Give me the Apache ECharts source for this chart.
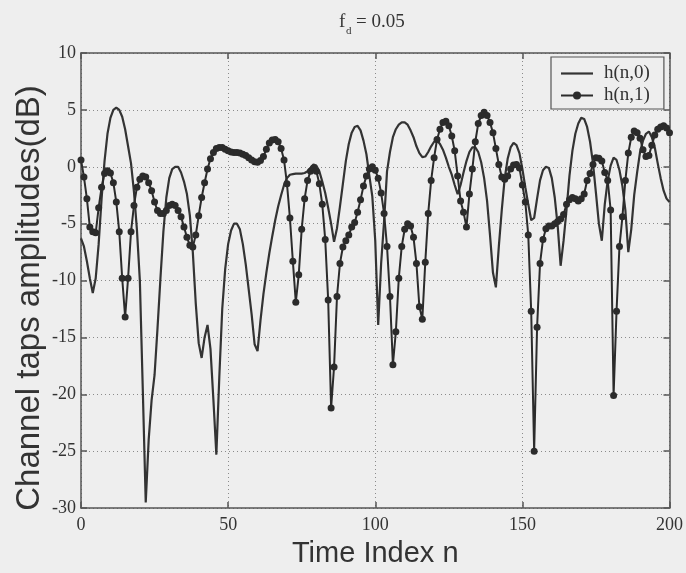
<!DOCTYPE html>
<html>
<head>
<meta charset="utf-8">
<script src="https://cdn.jsdelivr.net/npm/echarts@6/dist/echarts.min.js"></script>
<style>
html,body{margin:0;padding:0;background:#eeeeee;}
#chart{width:686px;height:573px;}
</style>
</head>
<body>
<div id="chart"></div>
<script>
// Time index n = 0..200 (sample positions)
const timeIndex = Array.from({length: 201}, (_, i) => i);

// h(n,0) amplitudes (dB)
const h0 = [
 -6.3,-7.0,-8.3,-9.8,-11.1,-9.8,-6.8,-2.8,0.5,2.9,
 4.3,5.0,5.2,5.0,4.4,3.3,1.8,0.3,-2.2,-5.5,
 -10.0,-19.6,-29.5,-24.0,-20.5,-18.3,-14.2,-9.8,-5.7,-2.7,
 -1.0,-0.2,0.0,0.0,-0.5,-1.3,-2.4,-4.3,-7.5,-12.0,
 -15.5,-16.8,-15.0,-13.9,-16.0,-20.5,-25.3,-18.5,-12.5,-9.0,
 -6.8,-5.6,-5.0,-5.0,-5.5,-6.8,-8.6,-10.8,-13.0,-15.6,
 -16.2,-13.5,-11.2,-9.3,-7.6,-6.1,-4.7,-3.5,-2.5,-1.6,
 -1.0,-0.7,-0.65,-0.6,-0.6,-0.6,-0.55,-0.4,-0.1,0.2,
 0.1,-0.4,-1.3,-2.3,-3.6,-5.0,-6.6,-5.4,-3.5,-1.5,
 0.5,2.0,3.0,3.5,3.6,3.2,2.3,1.1,-0.8,-2.6,
 -6.5,-13.9,-8.5,-4.8,-0.4,1.3,2.6,3.3,3.7,3.9,
 3.9,3.7,3.2,2.6,1.8,1.2,0.85,0.9,1.3,1.8,
 2.2,2.3,2.0,1.5,0.8,0.0,-0.7,-1.6,-2.4,-1.6,
 -0.5,0.5,1.3,1.7,1.7,1.3,0.4,-1.0,-3.0,-6.0,
 -9.3,-10.6,-7.0,-3.8,-1.0,0.7,1.7,2.1,1.9,1.2,
 -0.2,-1.8,-3.3,-4.7,-4.5,-2.8,-1.2,-0.3,0.0,-0.1,
 -1.0,-2.7,-5.2,-8.7,-6.5,-3.8,-0.8,1.4,2.9,3.8,
 4.3,4.2,3.5,2.2,0.3,-2.3,-5.0,-6.5,-3.3,-1.2,
 0.1,0.8,0.6,-0.3,-1.7,-3.8,-7.5,-5.5,-2.5,-0.5,
 1.3,2.3,2.9,3.1,2.6,1.7,0.3,-1.0,-2.1,-2.8,
 -3.1
];

// h(n,1) amplitudes (dB)
const h1 = [
 0.6,-0.9,-2.8,-5.3,-5.7,-5.8,-3.6,-1.8,-0.6,-0.35,
 -0.55,-1.4,-3.1,-5.7,-9.8,-13.2,-9.8,-5.7,-3.4,-1.8,
 -1.1,-0.8,-0.9,-1.4,-2.1,-3.1,-3.85,-4.1,-4.1,-3.85,
 -3.4,-3.3,-3.4,-3.85,-4.4,-5.3,-6.2,-6.9,-7.05,-6.0,
 -4.3,-2.7,-1.4,-0.2,0.7,1.25,1.6,1.7,1.7,1.55,
 1.4,1.3,1.25,1.25,1.2,1.1,1.0,0.8,0.6,0.45,
 0.4,0.55,0.9,1.55,2.1,2.35,2.4,2.2,1.6,0.6,
 -1.5,-4.5,-8.3,-11.9,-9.5,-5.5,-2.8,-1.2,-0.4,-0.1,
 -0.4,-1.5,-3.3,-6.4,-11.7,-21.2,-17.6,-11.4,-8.5,-7.05,
 -6.5,-6.0,-5.3,-4.9,-4.0,-2.9,-1.7,-0.8,-0.2,0.0,
 -0.3,-1.0,-2.3,-4.1,-7.0,-11.4,-17.4,-14.5,-9.8,-7.0,
 -5.5,-5.0,-5.2,-6.2,-8.5,-12.3,-13.4,-8.4,-4.1,-1.2,
 0.8,2.4,3.3,3.9,4.0,3.6,2.7,1.4,-0.8,-3.0,
 -4.0,-5.3,-2.4,-0.2,2.2,3.8,4.5,4.8,4.5,3.9,
 3.0,1.6,0.2,-0.9,-1.1,-0.8,-0.2,0.15,0.2,-0.1,
 -1.6,-3.1,-6.0,-12.7,-25.0,-14.1,-8.5,-6.4,-5.45,-5.2,
 -5.2,-5.0,-4.8,-4.6,-4.2,-3.3,-2.9,-2.7,-2.8,-3.0,
 -2.8,-2.4,-1.2,-0.6,0.2,0.8,0.75,0.5,-0.5,-1.2,
 -3.8,-20.1,-12.7,-7.0,-4.4,-1.2,1.2,2.6,3.15,3.0,
 2.5,1.5,0.9,1.0,1.9,2.8,3.3,3.5,3.6,3.4,
 3.0
];

const seriesNames = ['h(n,0)', 'h(n,1)'];
const xTicks = [0, 50, 100, 150, 200];
const yTicks = [-30, -25, -20, -15, -10, -5, 0, 5, 10];
const titleParts = ['f', 'd', '= 0.05'];
const xName = 'Time Index n';
const yName = 'Channel taps amplitudes(dB)';

const serif = 'Liberation Serif';
const sans = 'Liberation Sans';
const frame = '#555555';
const ink = '#333333';

const chart = echarts.init(document.getElementById('chart'), null, {renderer: 'canvas'});

const dotted = {show: true, lineStyle: {color: '#8a8a8a', type: [1, 3], width: 1}};

const option = {
  backgroundColor: '#eeeeee',
  animation: false,
  grid: {left: 81, right: 16, top: 53, bottom: 63, show: false},
  graphic: [
    {type: 'text', left: 339, top: 13, style: {text: titleParts[0], font: '19px "Liberation Serif"', fill: ink}},
    {type: 'text', left: 346, top: 26, style: {text: titleParts[1], font: '11px "Liberation Serif"', fill: ink}},
    {type: 'text', left: 356, top: 13, style: {text: titleParts[2], font: '19px "Liberation Serif"', fill: ink}},
    {type: 'text', x: 30, y: 298, rotation: Math.PI / 2,
     style: {text: yName, font: '33px "Liberation Sans"', fill: ink, align: 'center', verticalAlign: 'middle'}}
  ],
  legend: {
    data: [
      {name: seriesNames[0], icon: 'path://M0,0L32,0L32,2.2L0,2.2Z'},
      {name: seriesNames[1]}
    ],
    orient: 'vertical',
    left: 551,
    top: 57,
    padding: [7, 14, 4, 9],
    itemWidth: 32,
    itemHeight: 10,
    itemGap: 3,
    borderColor: frame,
    borderWidth: 1.2,
    backgroundColor: '#eeeeee',
    textStyle: {fontFamily: serif, fontSize: 19, color: ink, padding: [0, 0, 0, 6]}
  },
  xAxis: [
    {
      type: 'value', position: 'bottom', min: xTicks[0], max: xTicks[xTicks.length - 1], interval: 50,
      axisLine: {show: true, onZero: false, lineStyle: {color: frame, width: 1.5}},
      axisTick: {show: true, inside: true, length: 6, lineStyle: {color: frame, width: 1.5}},
      axisLabel: {fontFamily: serif, fontSize: 18, color: ink, margin: 8},
      splitLine: dotted,
      name: xName, nameLocation: 'middle', nameGap: 30,
      nameTextStyle: {fontFamily: sans, fontSize: 29, color: ink}
    },
    {
      type: 'value', position: 'top', min: xTicks[0], max: xTicks[xTicks.length - 1], interval: 50,
      axisLine: {show: true, onZero: false, lineStyle: {color: frame, width: 1.5}},
      axisTick: {show: true, inside: true, length: 6, lineStyle: {color: frame, width: 1.5}},
      axisLabel: {show: false}, splitLine: {show: false}
    }
  ],
  yAxis: [
    {
      type: 'value', position: 'left', min: yTicks[0], max: yTicks[yTicks.length - 1], interval: 5,
      axisLine: {show: true, onZero: false, lineStyle: {color: frame, width: 1.5}},
      axisTick: {show: true, inside: true, length: 6, lineStyle: {color: frame, width: 1.5}},
      axisLabel: {fontFamily: serif, fontSize: 18, color: ink, margin: 5},
      splitLine: dotted
    },
    {
      type: 'value', position: 'right', min: yTicks[0], max: yTicks[yTicks.length - 1], interval: 5,
      axisLine: {show: true, onZero: false, lineStyle: {color: frame, width: 1.5}},
      axisTick: {show: true, inside: true, length: 6, lineStyle: {color: frame, width: 1.5}},
      axisLabel: {show: false}, splitLine: {show: false}
    }
  ],
  series: [
    {
      name: seriesNames[0], type: 'line', xAxisIndex: 0, yAxisIndex: 0,
      data: timeIndex.map((n, i) => [n, h0[i]]),
      symbol: 'none', showSymbol: false,
      lineStyle: {color: '#333333', width: 2.2},
      itemStyle: {color: '#333333'}
    },
    {
      name: seriesNames[1], type: 'line', xAxisIndex: 0, yAxisIndex: 0,
      data: timeIndex.map((n, i) => [n, h1[i]]),
      symbol: 'circle', symbolSize: 7, showSymbol: true,
      lineStyle: {color: '#2b2b2b', width: 2},
      itemStyle: {color: '#2b2b2b', borderWidth: 0}
    }
  ]
};
chart.setOption(option);
</script>
</body>
</html>
